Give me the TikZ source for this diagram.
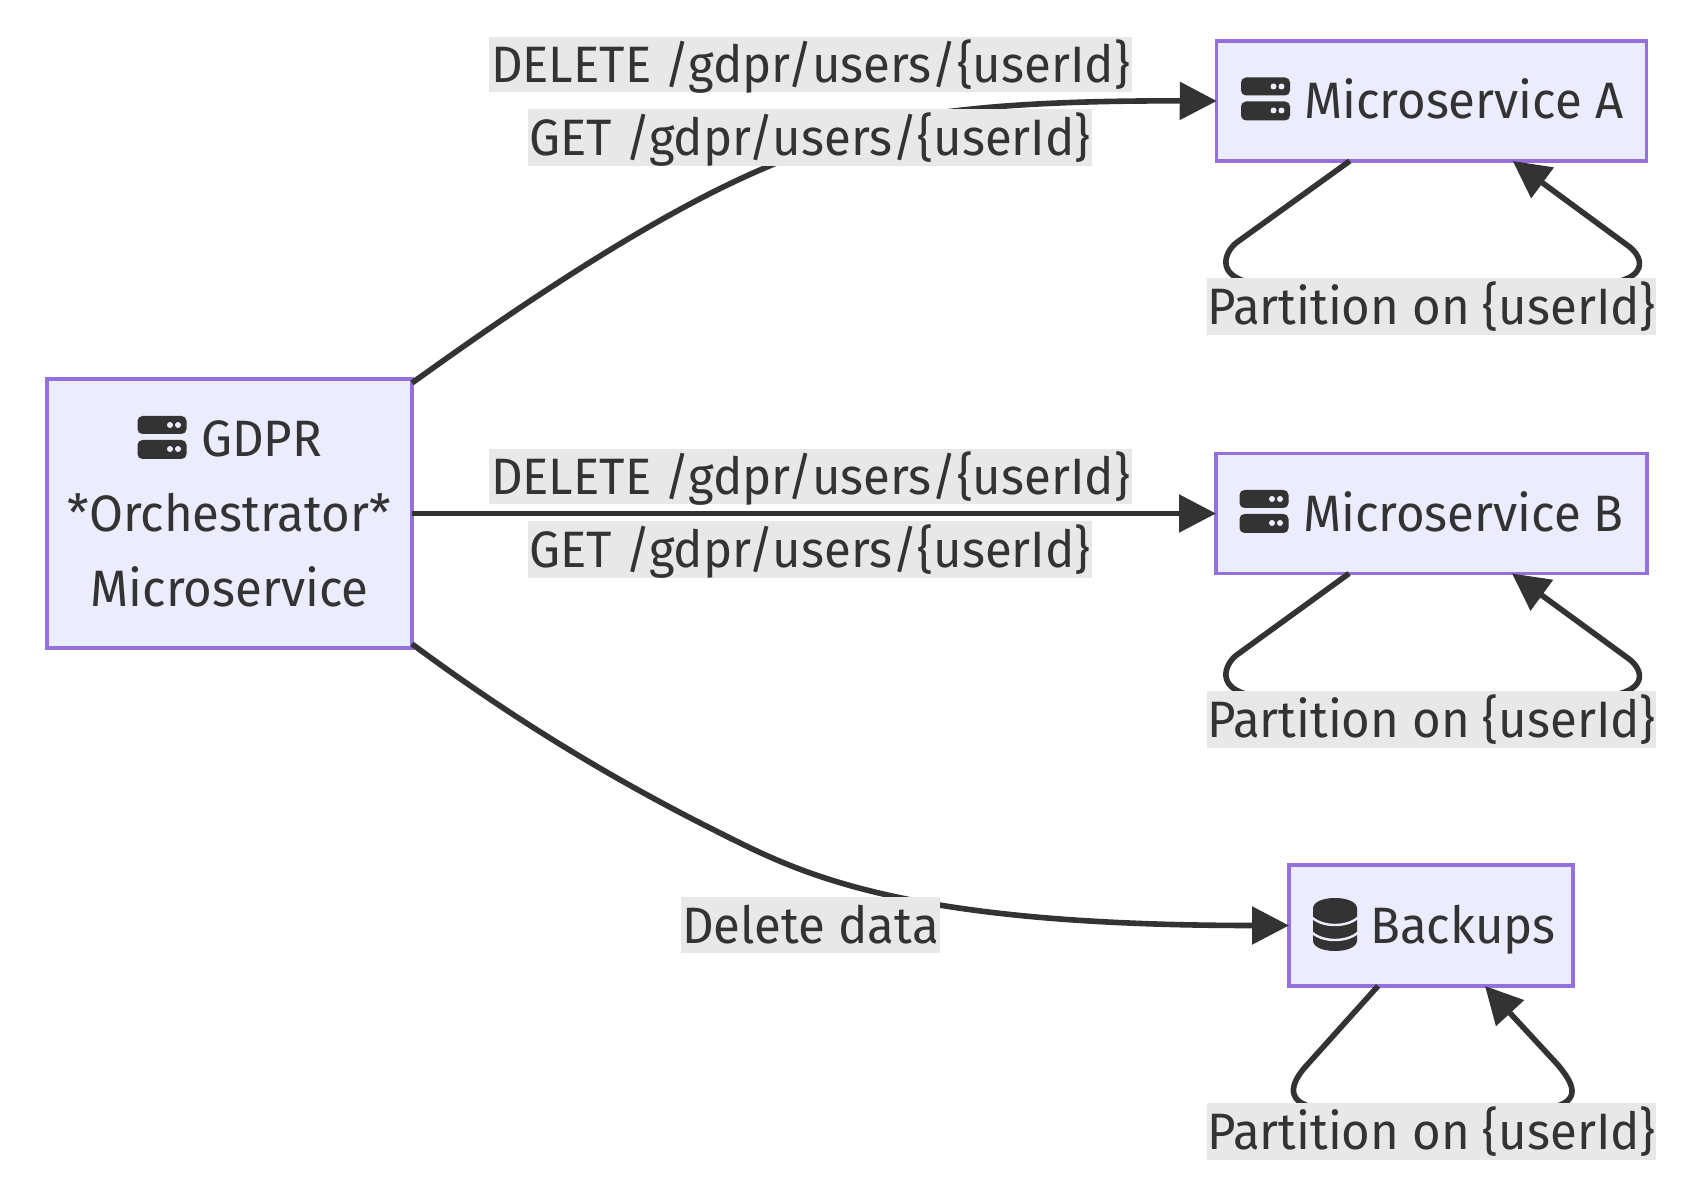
\documentclass[tikz,border=0pt]{standalone}
\usepackage{fontspec}
\setmainfont[FakeStretch=0.96]{Fira Sans}
\usetikzlibrary{arrows.meta,calc}
\definecolor{inkdark}{HTML}{333333}
\definecolor{boxfill}{HTML}{ECECFF}
\definecolor{boxline}{HTML}{9370DB}
\definecolor{labelbg}{HTML}{E8E8E8}
\tikzset{
  x=0.5pt,y=-0.5pt,
  svcbox/.style={draw=boxline,fill=boxfill,line width=1.6pt,inner sep=0pt,outer sep=0pt,
    text=inkdark,font=\fontsize{25.6}{37.5}\selectfont,text height=22pt,text depth=4pt,align=center},
  edgelabel/.style={fill=labelbg,inner sep=0pt,outer sep=0pt,text=inkdark,
    font=\fontsize{25.6}{37.5}\selectfont,text height=22pt,text depth=4pt},
  link/.style={draw=inkdark,line width=2.8pt,line join=round,
    -{Triangle[length=18.5pt,width=18.5pt]}},
  serverico/.pic={
    \fill[inkdark,rounded corners=2.5pt] (-24.5,-21.5) rectangle (24.5,-3.5);
    \fill[inkdark,rounded corners=2.5pt] (-24.5,2.5) rectangle (24.5,21.5);
    \fill[boxfill] (8,-12.5) circle (3) (16,-12.5) circle (3) (8,11.5) circle (3) (16,11.5) circle (3);
  },
  dbico/.pic={
    \fill[inkdark] (-22,-16) .. controls (-22,-30) and (22,-30) .. (22,-16)
      -- (22,16) .. controls (22,30) and (-22,30) .. (-22,16) -- cycle;
    \draw[boxfill,line width=1.2pt] (-23,-7) .. controls (-12,3) and (12,3) .. (23,-7);
    \draw[boxfill,line width=1.2pt] (-23,8) .. controls (-12,18) and (12,18) .. (23,8);
  }
}
\begin{document}
\begin{tikzpicture}
\useasboundingbox (0,0) rectangle (1682,1192);

% service boxes
\node[svcbox,minimum width=182.5pt,minimum height=134.5pt,text height=96.5pt,text depth=4pt] (gdpr) at (229.5,513.5)
  {\hspace*{32pt}GDPR\\*Orchestrator*\\Microservice};
\node[svcbox,minimum width=215pt,minimum height=60pt] (msa) at (1431.75,101) {\hspace*{32pt}Microservice A};
\node[svcbox,minimum width=215.5pt,minimum height=60pt] (msb) at (1431.5,513.5) {\hspace*{32pt}Microservice B};
\node[svcbox,minimum width=142pt,minimum height=60.5pt] (bak) at (1431,925.5) {\hspace*{32pt}Backups};

% icons
\pic at (162,437.5) {serverico};
\pic at (1265.5,99) {serverico};
\pic at (1264,511.5) {serverico};
\pic at (1335,924.5) {dbico};

% connectors from the orchestrator
\draw[link] ($(gdpr.north east)+(0,4)$) .. controls (530,298) and (660,212) .. (767,167)
  .. controls (840,136) and (880,100) .. (msa.west);
\draw[link] (gdpr.east) -- (msb.west);
\draw[link] ($(gdpr.south east)+(0,-4)$) .. controls (520,724) and (620,783) .. (720,833)
  .. controls (800,873) and (900,925.5) .. (bak.west);

% self loops that pass behind their labels
\draw[link] ($(msa.south west)+(133,0)$) -- (1236,243) .. controls (1224,253) and (1216,276) .. (1252,283)
  -- (1612,283) .. controls (1650,276) and (1642,255) .. (1627,245) -- ($(msa.south west)+(296,0)$);
\draw[link] ($(msb.south west)+(133,0)$) -- (1236,655.5) .. controls (1224,665.5) and (1216,688.5) .. (1252,695.5)
  -- (1612,695.5) .. controls (1650,688.5) and (1642,667.5) .. (1627,657.5) -- ($(msb.south west)+(296,0)$);
\draw[link] ($(bak.south west)+(89,0)$) -- (1307,1065) .. controls (1295,1078) and (1280,1101) .. (1316,1108)
  -- (1550,1108) .. controls (1584,1101) and (1572,1082) .. (1558,1065) -- ($(bak.south west)+(196,0)$);

% edge labels
\node[edgelabel,minimum width=321.5pt,minimum height=27.5pt] (la1) at (810.5,64.5) {DELETE /gdpr/users/\{userId\}};
\node[edgelabel,minimum width=282pt,minimum height=28.5pt] (la2) at (810,137.5) {GET /gdpr/users/\{userId\}};
\node[edgelabel,minimum width=321.5pt,minimum height=27.5pt] (lb1) at (810.5,476.5) {DELETE /gdpr/users/\{userId\}};
\node[edgelabel,minimum width=282pt,minimum height=28.5pt] (lb2) at (810,549.5) {GET /gdpr/users/\{userId\}};
\node[edgelabel,minimum width=129.5pt,minimum height=28pt] (lc) at (810.5,925) {Delete data};
\node[edgelabel,minimum width=223.5pt,minimum height=28.5pt] (pa) at (1431.5,306.5) {Partition on \{userId\}};
\node[edgelabel,minimum width=223.5pt,minimum height=28.5pt] (pb) at (1431.5,719) {Partition on \{userId\}};
\node[edgelabel,minimum width=223.5pt,minimum height=28.5pt] (pc) at (1431.5,1131) {Partition on \{userId\}};
\end{tikzpicture}
\end{document}
